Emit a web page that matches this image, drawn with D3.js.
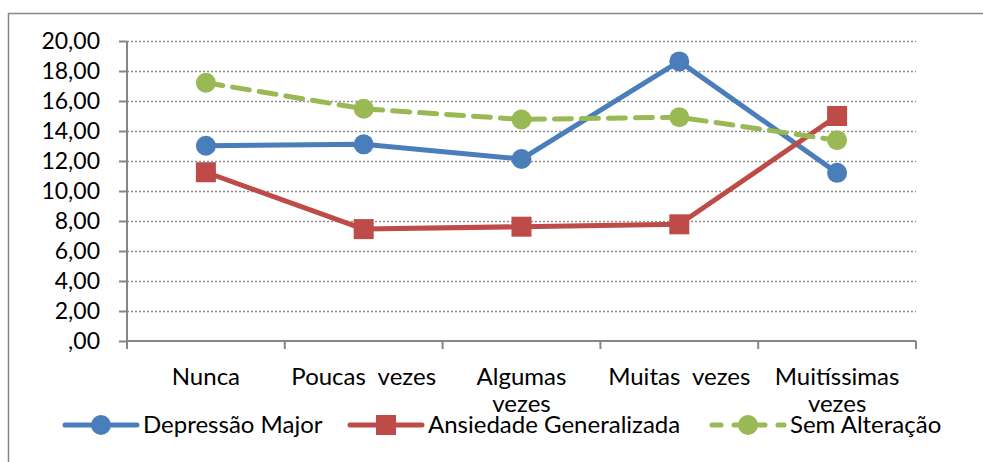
<!DOCTYPE html>
<html>
<head>
	<meta charset="utf-8">
	<title>Chart</title>
	<script src="https://d3js.org/d3.v7.min.js"></script>
	<style type="text/css">
		body { margin: 0; background: #fff; }
		text { font-family: Lato, "Open Sans", sans-serif; fill: #000; }
	</style>
</head>
<body>
<div id="svg"></div>
<script type="text/javascript">

	var categories = ["Nunca", "Poucas  vezes", "Algumas vezes", "Muitas  vezes", "Muitíssimas vezes"];
	// labels as they wrap in the picture
	var categoryLines = [["Nunca"], ["Poucas  vezes"], ["Algumas", "vezes"], ["Muitas  vezes"], ["Muitíssimas", "vezes"]];

	var depressao = [13.02, 13.11, 12.13, 18.64, 11.21];
	var ansiedade = [11.25, 7.46, 7.62, 7.78, 15.00];
	var semAlteracao = [17.22, 15.48, 14.77, 14.92, 13.38];

	var yTicks = [0, 2, 4, 6, 8, 10, 12, 14, 16, 18, 20];
	var yTickLabels = [",00", "2,00", "4,00", "6,00", "8,00", "10,00", "12,00", "14,00", "16,00", "18,00", "20,00"];

	var seriesNames = ["Depressão Major", "Ansiedade Generalizada", "Sem Alteração"];

	var width = 983,
	    height = 462;

	var plotLeft = 127, plotRight = 916, plotTop = 41, plotBottom = 341;

	var svg = d3.select("#svg")
	    .append("svg")
	    .attr("width", width)
	    .attr("height", height);

	// outer chart border (runs past the bottom / right edge of the picture)
	svg.append("rect")
	    .attr("x", 8.5).attr("y", 13.5)
	    .attr("width", 1000).attr("height", 500)
	    .attr("fill", "none")
	    .attr("stroke", "#868686")
	    .attr("stroke-width", 1.5);

	var xScale = d3.scaleBand()
	    .domain(categories)
	    .range([plotLeft, plotRight]);

	var yScale = d3.scaleLinear()
	    .domain([0, 20])
	    .range([plotBottom, plotTop]);

	// gridlines
	svg.append("g")
	    .selectAll("line")
	    .data(yTicks.slice(1))
	    .enter()
	    .append("line")
	    .attr("x1", plotLeft).attr("x2", plotRight)
	    .attr("y1", d => Math.round(yScale(d)) + 0.5)
	    .attr("y2", d => Math.round(yScale(d)) + 0.5)
	    .attr("stroke", "#8c8c8c")
	    .attr("stroke-width", 1.5)
	    .attr("stroke-dasharray", "2,2");

	var yAxis = d3.axisLeft(yScale)
	    .tickValues(yTicks)
	    .tickFormat((d, i) => yTickLabels[i])
	    .tickSize(8)
	    .tickPadding(19);

	var gY = svg.append("g")
	    .attr("transform", "translate(" + plotLeft + ",0)")
	    .call(yAxis);

	var xAxis = d3.axisBottom(xScale)
	    .tickSize(8)
	    .tickFormat("");

	var gX = svg.append("g")
	    .attr("transform", "translate(0," + plotBottom + ")")
	    .call(xAxis);

	// band boundaries as ticks, like the original
	gX.selectAll(".tick").remove();
	gX.selectAll(".edge")
	    .data(categories.concat(["end"]))
	    .enter()
	    .append("line")
	    .attr("x1", (d, i) => i < categories.length ? xScale(d) : plotRight)
	    .attr("x2", (d, i) => i < categories.length ? xScale(d) : plotRight)
	    .attr("y1", 0).attr("y2", 8);

	[gX, gY].forEach(function(g) {
	    g.selectAll("path, line").attr("stroke", "#868686").attr("stroke-width", 2);
	    g.select(".domain").attr("d", g === gX ? "M" + plotLeft + ",0H" + plotRight : "M0," + plotBottom + "V" + plotTop);
	});
	gY.selectAll("text")
	    .style("font-size", "23px")
	    .attr("fill", "#000");

	// category labels
	var catLabels = svg.append("g")
	    .selectAll("text")
	    .data(categories)
	    .enter()
	    .append("text")
	    .attr("x", d => xScale(d) + xScale.bandwidth() / 2)
	    .attr("y", 385)
	    .attr("text-anchor", "middle")
	    .style("font-size", "24px")
	    .style("white-space", "pre");

	catLabels.selectAll("tspan")
	    .data((d, i) => categoryLines[i])
	    .enter()
	    .append("tspan")
	    .attr("x", function() { return d3.select(this.parentNode).attr("x"); })
	    .attr("dy", (d, i) => i === 0 ? 0 : 27)
	    .text(d => d);

	// series
	var series = [
	    { name: seriesNames[0], values: depressao, color: "#4a7ebb", marker: "circle", dash: null },
	    { name: seriesNames[1], values: ansiedade, color: "#be4b48", marker: "square", dash: null },
	    { name: seriesNames[2], values: semAlteracao, color: "#98b954", marker: "circle", dash: "17,10" }
	];

	var line = d3.line()
	    .x((d, i) => xScale(categories[i]) + xScale.bandwidth() / 2)
	    .y(d => yScale(d));

	series.forEach(function(s) {
	    svg.append("path")
	        .datum(s.values)
	        .attr("d", line)
	        .attr("fill", "none")
	        .attr("stroke", s.color)
	        .attr("stroke-width", 5)
	        .attr("stroke-linecap", "round")
	        .attr("stroke-linejoin", "round")
	        .attr("stroke-dasharray", s.dash);

	    var pts = svg.append("g").selectAll(".pt")
	        .data(s.values)
	        .enter();
	    if (s.marker === "circle") {
	        pts.append("circle")
	            .attr("cx", (d, i) => xScale(categories[i]) + xScale.bandwidth() / 2)
	            .attr("cy", d => yScale(d))
	            .attr("r", 10)
	            .attr("fill", s.color);
	    } else {
	        pts.append("rect")
	            .attr("x", (d, i) => xScale(categories[i]) + xScale.bandwidth() / 2 - 10)
	            .attr("y", d => yScale(d) - 10)
	            .attr("width", 20).attr("height", 20)
	            .attr("fill", s.color);
	    }
	});

	// legend
	var legendX = [65, 350, 712];
	var legend = svg.append("g").attr("transform", "translate(0,425)");
	series.forEach(function(s, i) {
	    var g = legend.append("g").attr("transform", "translate(" + legendX[i] + ",0)");
	    g.append("line")
	        .attr("x1", 0).attr("x2", 72)
	        .attr("y1", 0).attr("y2", 0)
	        .attr("stroke", s.color)
	        .attr("stroke-width", 5)
	        .attr("stroke-linecap", "round")
	        .attr("stroke-dasharray", s.dash ? "9,13" : null);
	    if (s.marker === "circle") {
	        g.append("circle").attr("cx", 36).attr("cy", 0).attr("r", 10).attr("fill", s.color);
	    } else {
	        g.append("rect").attr("x", 26).attr("y", -10).attr("width", 20).attr("height", 20).attr("fill", s.color);
	    }
	    g.append("text")
	        .attr("x", 78)
	        .attr("y", 8)
	        .style("font-size", "24px")
	        .text(s.name);
	});
</script>
</body>
</html>
